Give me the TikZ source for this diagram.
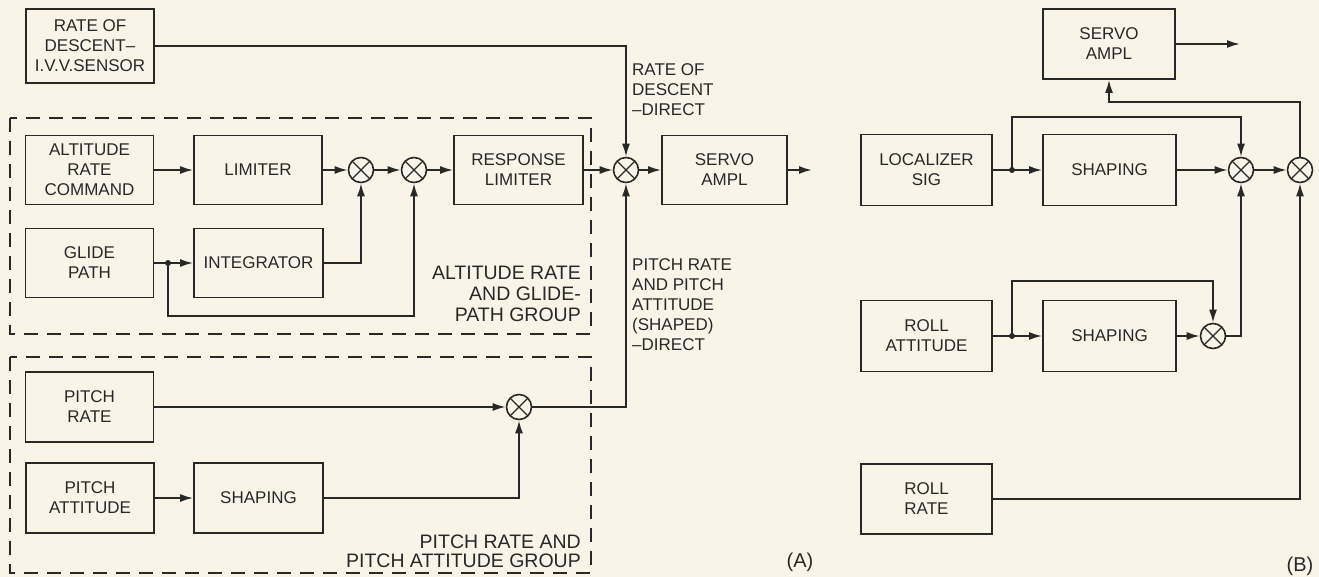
\documentclass[tikz,border=0pt]{standalone}
\usepackage{fontspec}
\setmainfont{Liberation Sans}
\usetikzlibrary{arrows.meta,calc}
\definecolor{paper}{RGB}{248,245,232}
\definecolor{ink}{RGB}{40,40,40}
\tikzset{
  blk/.style={draw=ink, line width=1.8pt, minimum width=128pt, minimum height=69pt,
    align=center, inner sep=0pt, text=ink, font=\fontsize{17}{20}\selectfont},
  sumj/.style={circle, draw=ink, line width=1.6pt, minimum size=25pt, inner sep=0pt,
    path picture={\draw[ink, line width=1.3pt]
      (path picture bounding box.north west) -- (path picture bounding box.south east)
      (path picture bounding box.north east) -- (path picture bounding box.south west);}},
  conn/.style={draw=ink, line width=1.8pt},
  arr/.style={conn, -{Latex[length=13pt,width=8pt]}},
  dotj/.style={circle, fill=ink, inner sep=0pt, minimum size=6pt},
  grpbox/.style={draw=ink, line width=1.6pt, dash pattern=on 14pt off 9pt},
  lbl/.style={text=ink, font=\fontsize{17}{20}\selectfont, align=left, inner sep=0pt},
  grp/.style={text=ink, font=\fontsize{19.5}{21}\selectfont, align=right, inner sep=0pt},
  tag/.style={text=ink, font=\fontsize{20}{21}\selectfont, inner sep=0pt}
}
\begin{document}
\begin{tikzpicture}[x=1pt,y=-1pt]
\fill[paper] (0,0) rectangle (1319,577);
\useasboundingbox (0,0) rectangle (1319,577);

% ---------- (A) ----------
\draw[grpbox] (10,118) rectangle (591,334);
\draw[grpbox] (10,357) rectangle (591,573);

\node[blk, minimum height=74pt] (rod) at (90,46) {RATE OF\\DESCENT\textendash\\I.V.V.SENSOR};
\node[blk] (arc) at (89.5,170) {ALTITUDE\\RATE\\COMMAND};
\node[blk] (lim) at (258,170) {LIMITER};
\node[sumj] (s1) at (361,170) {};
\node[sumj] (s2) at (414,170) {};
\node[blk, minimum width=129pt] (rl) at (518.5,170) {RESPONSE\\LIMITER};
\node[sumj] (s3) at (626,170) {};
\node[blk, minimum width=125pt] (svA) at (724.5,170) {SERVO\\AMPL};
\coordinate (outA) at (812,170);

\node[blk] (gp) at (89.5,263) {GLIDE\\PATH};
\node[blk, minimum width=129pt] (integ) at (258.5,263) {INTEGRATOR};
\node[dotj] (j1) at (168,263) {};
\coordinate (lowA) at (168,316);

\node[blk, minimum height=70pt] (pr) at (89.5,407) {PITCH\\RATE};
\node[sumj] (s4) at (519,407) {};
\node[blk, minimum height=70pt] (pa) at (90,498) {PITCH\\ATTITUDE};
\node[blk, minimum width=129pt, minimum height=70pt] (shA) at (258.5,498) {SHAPING};

\draw[arr] (rod.east) -| (s3.north);
\draw[arr] (arc) -- (lim);
\draw[arr] (lim) -- (s1);
\draw[arr] (s1) -- (s2);
\draw[arr] (s2) -- (rl);
\draw[arr] (rl) -- (s3);
\draw[arr] (s3) -- (svA);
\draw[arr] (svA.east) -- (outA);
\draw[conn] (gp.east) -- (j1.center);
\draw[arr] (j1.center) -- (integ.west);
\draw[arr] (integ.east) -| (s1.south);
\draw[arr] (j1.center) -- (lowA) -| (s2.south);
\draw[arr] (pr.east |- s4) -- (s4.west);
\draw[arr] (pa) -- (shA);
\draw[arr] (shA.east) -| (s4.south);
\draw[arr] (s4.east) -| (s3.south);

\node[lbl, anchor=west] (lrod) at (632,90) {RATE OF\\DESCENT\\\textendash DIRECT};
\node[lbl, anchor=west] (lpr) at (632,305) {PITCH RATE\\AND PITCH\\ATTITUDE\\(SHAPED)\\\textendash DIRECT};
\node[grp, anchor=east] (galt) at (581,294) {ALTITUDE RATE\\AND GLIDE-\\PATH GROUP};
\node[grp, anchor=east, font=\fontsize{19.5}{19}\selectfont] (gpit) at (581,551) {PITCH RATE AND\\PITCH ATTITUDE GROUP};
\node[tag] (tA) at (800,562) {(A)};

% ---------- (B) ----------
\node[blk, minimum width=132pt, minimum height=70pt] (svB) at (1109,44) {SERVO\\AMPL};
\coordinate (outB) at (1240,44);
\node[blk, minimum width=131pt, minimum height=71pt] (loc) at (926.5,170) {LOCALIZER\\SIG};
\node[blk, minimum width=133pt, minimum height=71pt] (shB1) at (1109.5,170) {SHAPING};
\node[sumj] (b1) at (1241,170) {};
\node[sumj] (b2) at (1300,170) {};
\node[dotj] (j2) at (1012,170) {};
\coordinate (upB1) at (1012,117);
\coordinate (upB0) at (1300,102);

\node[blk, minimum width=131pt, minimum height=71pt] (ra) at (926.5,336) {ROLL\\ATTITUDE};
\node[blk, minimum width=133pt, minimum height=71pt] (shB2) at (1109.5,336) {SHAPING};
\node[sumj] (b3) at (1213,336) {};
\node[dotj] (j3) at (1012,336) {};
\coordinate (upB2) at (1012,281);

\node[blk, minimum width=131pt, minimum height=70pt] (rr) at (926.5,499) {ROLL\\RATE};

\draw[arr] (svB.east) -- (outB);
\draw[arr] (b2.north) -- (upB0) -| (svB.south);
\draw[conn] (loc.east) -- (j2.center);
\draw[arr] (j2.center) -- (shB1.west);
\draw[arr] (j2.center) -- (upB1) -| (b1.north);
\draw[arr] (shB1) -- (b1);
\draw[arr] (b1) -- (b2);
\draw[conn] (ra.east) -- (j3.center);
\draw[arr] (j3.center) -- (shB2.west);
\draw[arr] (j3.center) -- (upB2) -| (b3.north);
\draw[arr] (shB2) -- (b3);
\draw[arr] (b3.east) -| (b1.south);
\draw[arr] (rr.east) -| (b2.south);
\node[tag] (tB) at (1300,566) {(B)};
\end{tikzpicture}
\end{document}
